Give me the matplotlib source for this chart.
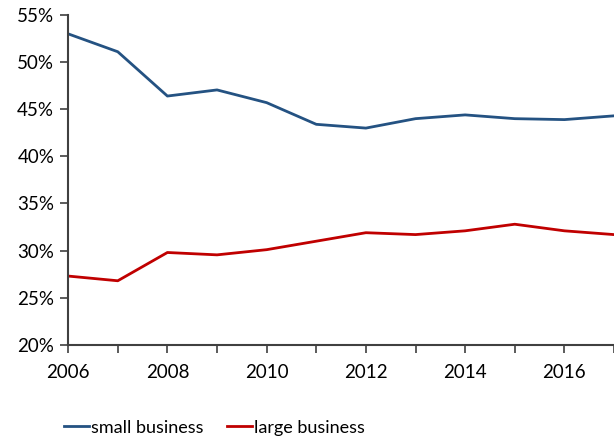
import matplotlib
matplotlib.use("Agg")
import matplotlib.pyplot as plt
from matplotlib.ticker import FuncFormatter, MultipleLocator

years = list(range(2006, 2018))
small_business = [53.0, 51.1, 46.4, 47.05, 45.7, 43.4, 43.0, 44.0, 44.4, 44.0, 43.9, 44.3]
large_business = [27.3, 26.8, 29.8, 29.55, 30.1, 31.0, 31.9, 31.7, 32.1, 32.8, 32.1, 31.7]

plt.rcParams['font.family'] = ['Lato', 'DejaVu Sans']

fig = plt.figure(figsize=(6.14, 4.41), dpi=100)
ax = fig.add_axes([0.111, 0.218, 0.889, 0.748])

ax.plot(years, small_business, color='#245282', lw=2.0, label='small business')
ax.plot(years, large_business, color='#c00000', lw=2.0, label='large business')

ax.set_xlim(2006, 2017)
ax.set_ylim(20, 55)
ax.yaxis.set_major_locator(MultipleLocator(5))
ax.yaxis.set_major_formatter(FuncFormatter(lambda v, p: f"{v:.0f}%"))
ax.set_xticks([2006, 2008, 2010, 2012, 2014, 2016])
ax.set_xticks(years, minor=True)
ax.tick_params(axis='x', which='both', direction='out', length=6, width=1.2, color='#404040', labelsize=13.5, pad=8)
ax.tick_params(axis='y', direction='out', length=6, width=1.2, color='#404040', labelsize=13.5, pad=4)

for s in ['top', 'right']:
    ax.spines[s].set_visible(False)
for s in ['left', 'bottom']:
    ax.spines[s].set_color('#404040')
    ax.spines[s].set_linewidth(1.5)

leg = fig.legend(loc='center left', bbox_to_anchor=(0.078, 0.03), ncol=2, frameon=False,
                 fontsize=13, handlelength=1.4, handletextpad=0.1, columnspacing=1.3)

fig.savefig('out.png', dpi=100)
